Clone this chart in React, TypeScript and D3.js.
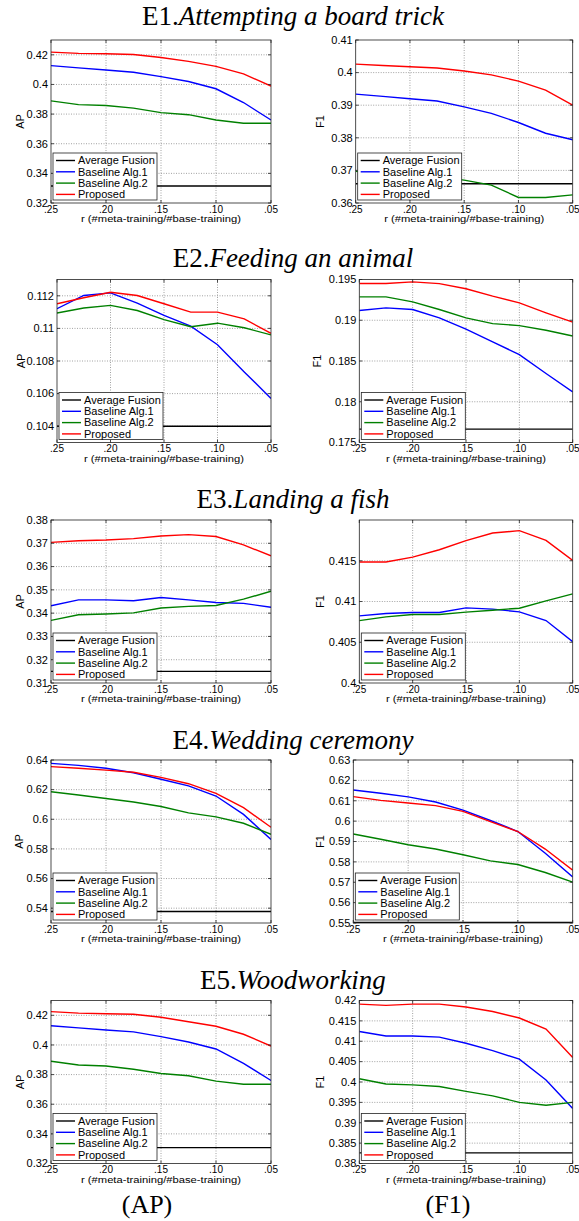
import React from "react";
import * as d3 from "d3";

// x axis: ratio of meta-training to base-training videos
const ratios = [0.25, 0.225, 0.2, 0.175, 0.15, 0.125, 0.1, 0.075, 0.05];
const ratioTicks = [0.25, 0.2, 0.15, 0.1, 0.05];
const ratioTickLabels = [".25", ".20", ".15", ".10", ".05"];

const methods = ["Average Fusion", "Baseline Alg.1", "Baseline Alg.2", "Proposed"];
const methodColors = ["#000000", "#0000ff", "#008000", "#ff0000"];

const eventIds = ["E1.", "E2.", "E3.", "E4.", "E5."];
const eventNames = [
  "Attempting a board trick",
  "Feeding an animal",
  "Landing a fish",
  "Wedding ceremony",
  "Woodworking",
];

// E1 AP
const e1ApAvg = [0.3315, 0.3315, 0.3315, 0.3315, 0.3315, 0.3315, 0.3315, 0.3315, 0.3315];
const e1ApB1 = [0.4127, 0.4112, 0.4098, 0.4082, 0.4053, 0.402, 0.3971, 0.3878, 0.376];
const e1ApB2 = [0.3889, 0.3864, 0.3858, 0.384, 0.381, 0.3796, 0.376, 0.3738, 0.3738];
const e1ApProp = [0.4218, 0.421, 0.4207, 0.4202, 0.4182, 0.4156, 0.4122, 0.4071, 0.3989];
const e1ApTicks = [0.32, 0.34, 0.36, 0.38, 0.4, 0.42];

// E1 F1
const e1F1Avg = [0.3659, 0.3659, 0.3659, 0.3659, 0.3659, 0.3659, 0.3659, 0.3659, 0.3659];
const e1F1B1 = [0.3934, 0.3927, 0.392, 0.3913, 0.3895, 0.3875, 0.3847, 0.3814, 0.3794];
const e1F1B2 = [0.3697, 0.3692, 0.3686, 0.368, 0.367, 0.3655, 0.3617, 0.3617, 0.3625];
const e1F1Prop = [0.4026, 0.4022, 0.4018, 0.4014, 0.4005, 0.3993, 0.3974, 0.3946, 0.39];
const e1F1Ticks = [0.36, 0.37, 0.38, 0.39, 0.4, 0.41];

// E2 AP
const e2ApAvg = [0.104, 0.104, 0.104, 0.104, 0.104, 0.104, 0.104, 0.104, 0.104];
const e2ApB1 = [0.11121, 0.11202, 0.11218, 0.11155, 0.1108, 0.11014, 0.109, 0.10733, 0.1057];
const e2ApB2 = [0.11094, 0.11125, 0.11141, 0.1111, 0.11054, 0.1101, 0.11032, 0.11004, 0.1096];
const e2ApProp = [0.11151, 0.11188, 0.11222, 0.11202, 0.11151, 0.111, 0.111, 0.11058, 0.1097];
const e2ApTicks = [0.104, 0.106, 0.108, 0.11, 0.112];

// E2 F1
const e2F1Avg = [0.17664, 0.17664, 0.17664, 0.17664, 0.17664, 0.17664, 0.17664, 0.17664, 0.17664];
const e2F1B1 = [0.19119, 0.19152, 0.19132, 0.19029, 0.1889, 0.18734, 0.18579, 0.18346, 0.18121];
const e2F1B2 = [0.19287, 0.19287, 0.19226, 0.19132, 0.19029, 0.18959, 0.18934, 0.18877, 0.18807];
const e2F1Prop = [0.19451, 0.19451, 0.19471, 0.1945, 0.19386, 0.19296, 0.19214, 0.19091, 0.18976];
const e2F1Ticks = [0.175, 0.18, 0.185, 0.19, 0.195];

// E3 AP
const e3ApAvg = [0.315, 0.315, 0.315, 0.315, 0.315, 0.315, 0.315, 0.315, 0.315];
const e3ApB1 = [0.3432, 0.3457, 0.3457, 0.3453, 0.3467, 0.3457, 0.3446, 0.3442, 0.3425];
const e3ApB2 = [0.3369, 0.3393, 0.3396, 0.3401, 0.3422, 0.3429, 0.3433, 0.346, 0.3494];
const e3ApProp = [0.3704, 0.3711, 0.3714, 0.372, 0.3731, 0.3737, 0.3729, 0.3693, 0.3646];
const e3ApTicks = [0.31, 0.32, 0.33, 0.34, 0.35, 0.36, 0.37, 0.38];

// E3 F1 (average fusion falls below the axis range)
const e3F1Avg = [0.3985, 0.3985, 0.3985, 0.3985, 0.3985, 0.3985, 0.3985, 0.3985, 0.3985];
const e3F1B1 = [0.40824, 0.40852, 0.40865, 0.40865, 0.40922, 0.40906, 0.40873, 0.40766, 0.40508];
const e3F1B2 = [0.40766, 0.40811, 0.4084, 0.4084, 0.40869, 0.40893, 0.40918, 0.41008, 0.41094];
const e3F1Prop = [0.41484, 0.41484, 0.41545, 0.41635, 0.41746, 0.4184, 0.41869, 0.4175, 0.41504];
const e3F1Ticks = [0.4, 0.405, 0.41, 0.415];

// E4 AP
const e4ApAvg = [0.5378, 0.5378, 0.5378, 0.5378, 0.5378, 0.5378, 0.5378, 0.5378, 0.5378];
const e4ApB1 = [0.6377, 0.6364, 0.6344, 0.6314, 0.627, 0.6225, 0.6157, 0.6033, 0.5864];
const e4ApB2 = [0.6186, 0.6164, 0.614, 0.6117, 0.6086, 0.6043, 0.6016, 0.5973, 0.5899];
const e4ApProp = [0.6355, 0.6344, 0.6332, 0.6317, 0.6283, 0.624, 0.6175, 0.6078, 0.5946];
const e4ApTicks = [0.54, 0.56, 0.58, 0.6, 0.62, 0.64];

// E4 F1
const e4F1Avg = [0.5503, 0.5503, 0.5503, 0.5503, 0.5503, 0.5503, 0.5503, 0.5503, 0.5503];
const e4F1B1 = [0.6153, 0.6137, 0.6119, 0.6094, 0.6054, 0.6003, 0.5949, 0.5842, 0.5726];
const e4F1B2 = [0.5937, 0.5911, 0.5884, 0.5863, 0.5835, 0.5805, 0.5787, 0.5748, 0.5701];
const e4F1Prop = [0.612, 0.6102, 0.6089, 0.6076, 0.6048, 0.5998, 0.5949, 0.5863, 0.5759];
const e4F1Ticks = [0.55, 0.56, 0.57, 0.58, 0.59, 0.6, 0.61, 0.62, 0.63];

// E5 AP
const e5ApAvg = [0.3307, 0.3307, 0.3307, 0.3307, 0.3307, 0.3307, 0.3307, 0.3307, 0.3307];
const e5ApB1 = [0.413, 0.4115, 0.4101, 0.4088, 0.4056, 0.402, 0.3973, 0.3876, 0.376];
const e5ApB2 = [0.389, 0.3865, 0.3858, 0.3836, 0.3807, 0.3792, 0.3756, 0.3735, 0.3735];
const e5ApProp = [0.4225, 0.4215, 0.4211, 0.4207, 0.4187, 0.4157, 0.4126, 0.4072, 0.3993];
const e5ApTicks = [0.32, 0.34, 0.36, 0.38, 0.4, 0.42];

// E5 F1
const e5F1Avg = [0.3826, 0.3826, 0.3826, 0.3826, 0.3826, 0.3826, 0.3826, 0.3826, 0.3826];
const e5F1B1 = [0.4124, 0.4113, 0.4113, 0.411, 0.4095, 0.4077, 0.4056, 0.4005, 0.3935];
const e5F1B2 = [0.4008, 0.3995, 0.3993, 0.3989, 0.3977, 0.3966, 0.395, 0.3943, 0.395];
const e5F1Prop = [0.4191, 0.4188, 0.4191, 0.4191, 0.4184, 0.4173, 0.4157, 0.413, 0.406];
const e5F1Ticks = [0.38, 0.385, 0.39, 0.395, 0.4, 0.405, 0.41, 0.415, 0.42];

const apDomains = [[0.32, 0.43], [0.103, 0.113], [0.31, 0.38], [0.53, 0.64], [0.32, 0.43]];
const f1Domains = [[0.36, 0.41], [0.175, 0.195], [0.4, 0.42], [0.55, 0.63], [0.38, 0.42]];

const apSeries = [
  [e1ApAvg, e1ApB1, e1ApB2, e1ApProp],
  [e2ApAvg, e2ApB1, e2ApB2, e2ApProp],
  [e3ApAvg, e3ApB1, e3ApB2, e3ApProp],
  [e4ApAvg, e4ApB1, e4ApB2, e4ApProp],
  [e5ApAvg, e5ApB1, e5ApB2, e5ApProp],
];
const f1Series = [
  [e1F1Avg, e1F1B1, e1F1B2, e1F1Prop],
  [e2F1Avg, e2F1B1, e2F1B2, e2F1Prop],
  [e3F1Avg, e3F1B1, e3F1B2, e3F1Prop],
  [e4F1Avg, e4F1B1, e4F1B2, e4F1Prop],
  [e5F1Avg, e5F1B1, e5F1B2, e5F1Prop],
];
const apTicks = [e1ApTicks, e2ApTicks, e3ApTicks, e4ApTicks, e5ApTicks];
const f1Ticks = [e1F1Ticks, e2F1Ticks, e3F1Ticks, e4F1Ticks, e5F1Ticks];

// layout
const W = 579;
const H = 1221;
const rowTop = [40, 279.5, 520, 760, 1000.5];
const titleBase = [25, 266.5, 507.5, 749, 989];
const plotH = 163;
const apLeft = [51, 57, 51, 51, 51];
const apRight = 271;
const f1Left = [355.7, 359.3, 359.3, 353.3, 359.3];
const f1Right = 572.7;
const apLabelX = [20, 21, 20, 19.5, 20];
const f1LabelX = [320, 316.7, 320, 320, 320];

const sans = "'Liberation Sans', Arial, Helvetica, sans-serif";
const serif = "'Liberation Serif', 'Times New Roman', Times, serif";
const fmt = d3.format("~g");

type PanelProps = {
  id: string;
  left: number;
  right: number;
  top: number;
  domain: number[];
  ticks: number[];
  label: string;
  labelX: number;
  series: number[][];
};

function Panel({ id, left, right, top, domain, ticks, label, labelX, series }: PanelProps) {
  const bottom = top + plotH;
  const x = d3.scaleLinear().domain([0.25, 0.05]).range([left, right]);
  const y = d3.scaleLinear().domain(domain).range([bottom, top]);
  const line = d3
    .line<number>()
    .x((_, i) => x(ratios[i]))
    .y((d) => y(d));

  const lx = left + 2;
  const lw = 104;
  const lh = 47;
  const ly = bottom - 3 - lh;

  return (
    <g>
      <defs>
        <clipPath id={id}>
          <rect x={left} y={top} width={right - left} height={plotH} />
        </clipPath>
      </defs>
      <rect x={left} y={top} width={right - left} height={plotH} fill="#fff" />
      {/* dotted grid */}
      {ratioTicks.slice(1, -1).map((t) => (
        <line key={"gx" + t} x1={x(t)} x2={x(t)} y1={top} y2={bottom}
          stroke="#8a8a8a" strokeWidth={0.8} strokeDasharray="1,1.5" />
      ))}
      {ticks
        .filter((t) => y(t) > top + 0.5 && y(t) < bottom - 0.5)
        .map((t) => (
          <line key={"gy" + t} x1={left} x2={right} y1={y(t)} y2={y(t)}
            stroke="#8a8a8a" strokeWidth={0.8} strokeDasharray="1,1.5" />
        ))}
      {/* series */}
      <g clipPath={`url(#${id})`}>
        {series.map((s, i) => (
          <path key={i} d={line(s) || ""} fill="none" stroke={methodColors[i]} strokeWidth={1.4} />
        ))}
      </g>
      {/* axes box and inward ticks */}
      <rect x={left} y={top} width={right - left} height={plotH} fill="none" stroke="#222" strokeWidth={0.8} />
      {ratioTicks.map((t) => (
        <g key={"tx" + t}>
          <line x1={x(t)} x2={x(t)} y1={bottom} y2={bottom - 3} stroke="#222" strokeWidth={0.8} />
          <line x1={x(t)} x2={x(t)} y1={top} y2={top + 3} stroke="#222" strokeWidth={0.8} />
        </g>
      ))}
      {ticks.map((t) => (
        <g key={"ty" + t}>
          <line x1={left} x2={left + 3} y1={y(t)} y2={y(t)} stroke="#222" strokeWidth={0.8} />
          <line x1={right} x2={right - 3} y1={y(t)} y2={y(t)} stroke="#222" strokeWidth={0.8} />
        </g>
      ))}
      {/* tick labels */}
      {ratioTicks.map((t, i) => (
        <text key={"lx" + t} x={x(t)} y={bottom + 9.5} textAnchor="middle" fontFamily={sans} fontSize={10}>
          {ratioTickLabels[i]}
        </text>
      ))}
      {ticks.map((t) => (
        <text key={"ly" + t} x={left - 3} y={y(t)} dy="0.35em" textAnchor="end" fontFamily={sans} fontSize={11}>
          {fmt(t)}
        </text>
      ))}
      <text x={(left + right) / 2} y={bottom + 19} textAnchor="middle" fontFamily={sans} fontSize={8.5}
        textLength={160} lengthAdjust="spacingAndGlyphs">
        r (#meta-training/#base-training)
      </text>
      <text transform={`translate(${labelX},${(top + bottom) / 2}) rotate(-90)`} dy="0.35em"
        textAnchor="middle" fontFamily={sans} fontSize={11}>
        {label}
      </text>
      {/* legend */}
      <rect x={lx} y={ly} width={lw} height={lh} fill="#fff" stroke="#222" strokeWidth={0.8} />
      {methods.map((m, i) => {
        const yy = ly + 7.5 + i * 11.3;
        return (
          <g key={m}>
            <line x1={lx + 3} x2={lx + 22} y1={yy} y2={yy} stroke={methodColors[i]} strokeWidth={1.4} />
            <text x={lx + 25} y={yy} dy="0.35em" fontFamily={sans} fontSize={11}>
              {m}
            </text>
          </g>
        );
      })}
    </g>
  );
}

export default function App() {
  return (
    <svg width={W} height={H} style={{ position: "absolute", left: 0, top: 0, background: "#fff" }}>
      <rect x={0} y={0} width={W} height={H} fill="#fff" />
      {eventIds.map((eid, r) => (
        <g key={eid}>
          <text x={293} y={titleBase[r]} textAnchor="middle" fontFamily={serif} fontSize={27}>
            {eid}
            <tspan fontStyle="italic">{eventNames[r]}</tspan>
          </text>
          <Panel id={`ap${r}`} left={apLeft[r]} right={apRight} top={rowTop[r]} domain={apDomains[r]}
            ticks={apTicks[r]} label="AP" labelX={apLabelX[r]} series={apSeries[r]} />
          <Panel id={`f1${r}`} left={f1Left[r]} right={f1Right} top={rowTop[r]} domain={f1Domains[r]}
            ticks={f1Ticks[r]} label="F1" labelX={f1LabelX[r]} series={f1Series[r]} />
        </g>
      ))}
      <text x={147} y={1213} textAnchor="middle" fontFamily={serif} fontSize={26}>(AP)</text>
      <text x={448} y={1213} textAnchor="middle" fontFamily={serif} fontSize={26}>(F1)</text>
    </svg>
  );
}
